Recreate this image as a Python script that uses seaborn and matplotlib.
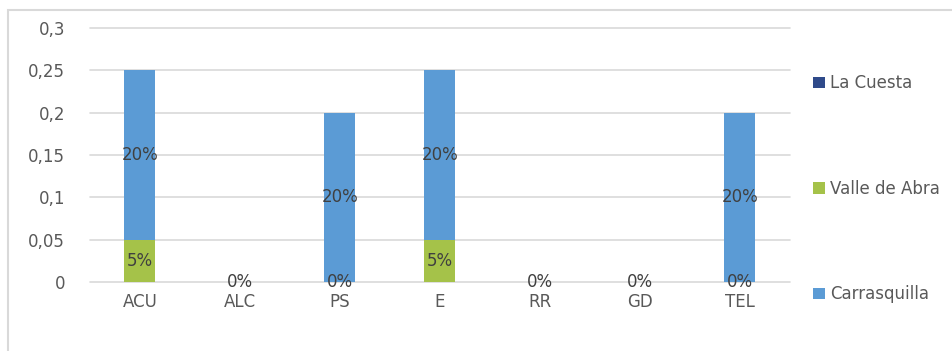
import pandas as pd
import numpy as np
import seaborn as sns
import matplotlib.pyplot as plt
from matplotlib.patches import Rectangle

# data
categories = ["ACU", "ALC", "PS", "E", "RR", "GD", "TEL"]
la_cuesta = [0, 0, 0, 0, 0, 0, 0]
valle_de_abra = [0.05, 0, 0, 0.05, 0, 0, 0]
carrasquilla = [0.20, 0, 0.20, 0.20, 0, 0, 0.20]
y_ticks = [0, 0.05, 0.1, 0.15, 0.2, 0.25, 0.3]
y_tick_labels = ["0", "0,05", "0,1", "0,15", "0,2", "0,25", "0,3"]

df = pd.DataFrame({"cat": categories, "La Cuesta": la_cuesta,
                   "Valle de Abra": valle_de_abra, "Carrasquilla": carrasquilla})

sns.set_style("white")
plt.rcParams["font.family"] = ["DejaVu Sans"]
text_col = "#595959"

fig = plt.figure(figsize=(9.53, 3.51), dpi=100)
ax = fig.add_axes([0.0944, 0.1966, 0.7345, 0.7236])

# outer chart border
fig.patches.append(Rectangle((8 / 953, -0.1), 1.2, 1 - 10 / 351 + 0.1, transform=fig.transFigure,
                             fill=False, edgecolor="#D9D9D9", linewidth=1.5))

colors = {"La Cuesta": "#2F4A8A", "Valle de Abra": "#A5C249", "Carrasquilla": "#5B9BD5"}
bottom = np.zeros(len(categories))
for name in ["La Cuesta", "Valle de Abra", "Carrasquilla"]:
    sns.barplot(data=df, x="cat", y=name, color=colors[name], bottom=bottom,
                width=0.31, label=name, ax=ax, saturation=1, linewidth=0, zorder=3)
    vals = df[name].values
    if name != "La Cuesta":
        for i, v in enumerate(vals):
            if name == "Carrasquilla" and v == 0:
                continue
            ax.text(i, bottom[i] + v / 2, f"{v * 100:.0f}%", ha="center", va="center",
                    fontsize=12, color="#404040", zorder=5)
    bottom = bottom + vals

ax.set_xlim(-0.5, len(categories) - 0.5)
ax.set_ylim(0, 0.3)
ax.set_yticks(y_ticks)
ax.set_yticklabels(y_tick_labels)
ax.grid(axis="y", color="#D9D9D9", linewidth=1.2, zorder=0)
for gl in ax.get_ygridlines():
    gl.set_clip_on(False)
ax.set_axisbelow(True)
for s in ax.spines.values():
    s.set_visible(False)
ax.tick_params(axis="both", length=0, labelsize=12, labelcolor=text_col)
ax.tick_params(axis="y", pad=18)
ax.tick_params(axis="x", pad=8)
ax.set_xlabel("")
ax.set_ylabel("")

ax.legend(loc="upper left", bbox_to_anchor=(1.012, 0.877), frameon=False, fontsize=12,
          labelspacing=5.25, handlelength=0.7, handleheight=0.7, handletextpad=0.3,
          labelcolor=text_col)

fig.savefig("out.png", dpi=100)
